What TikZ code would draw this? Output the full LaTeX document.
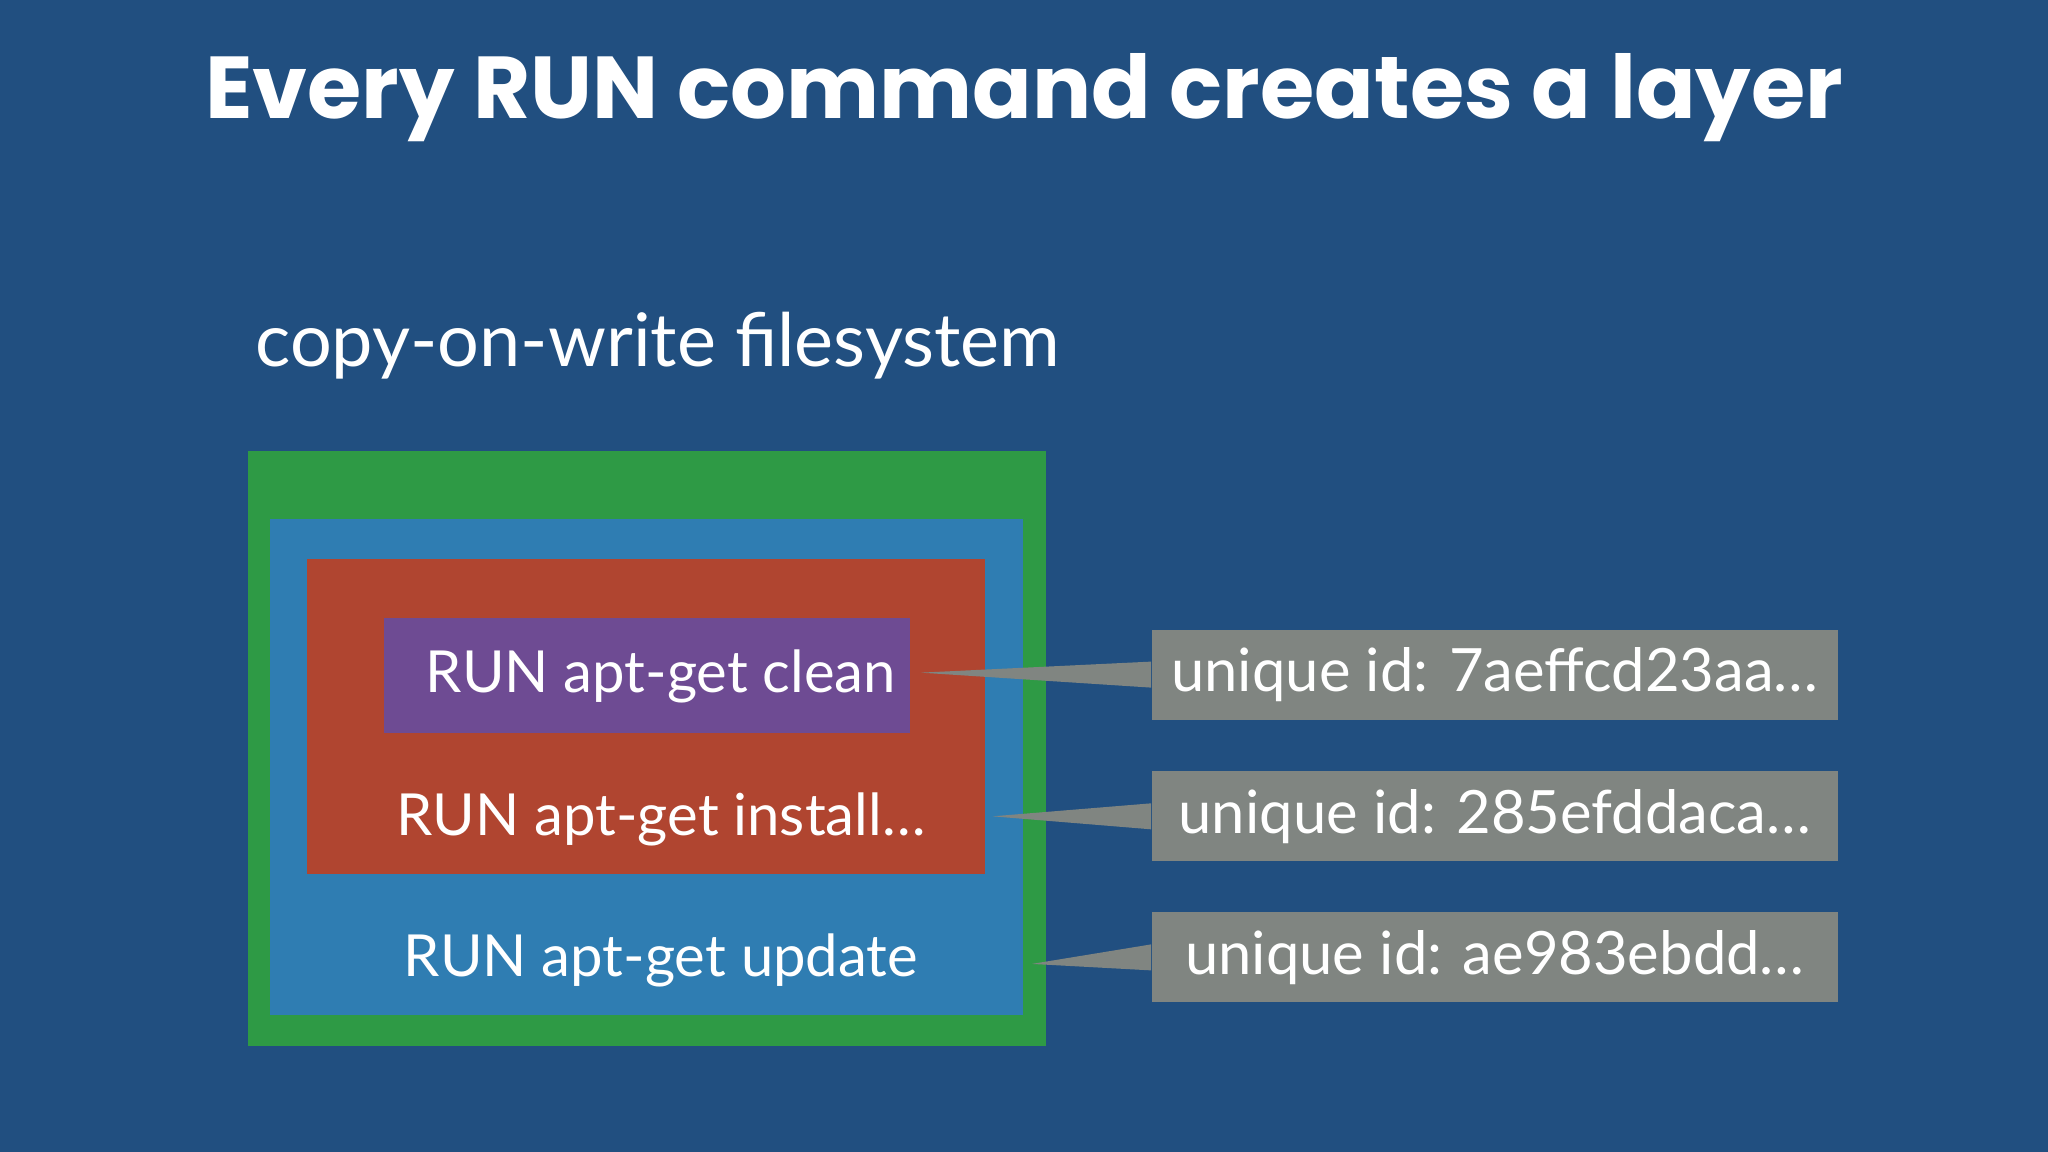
\documentclass[tikz,border=0pt]{standalone}
\usepackage{fontspec}
\setmainfont{Lato}
\newfontfamily\titlefont{Poppins}
\definecolor{bg}{HTML}{214F80}
\definecolor{lgreen}{HTML}{2E9A45}
\definecolor{lblue}{HTML}{2F7DB2}
\definecolor{lred}{HTML}{B04530}
\definecolor{lpurple}{HTML}{6E4B93}
\definecolor{lgray}{HTML}{808581}
\begin{document}
\begin{tikzpicture}[x=0.01306cm,y=-0.01306cm,
  lab/.style={text=white,font=\fontsize{16.5}{20}\selectfont,anchor=center},
  idbox/.style={fill=lgray,draw=none,minimum width=6.86cm,minimum height=0.9cm,text=white,font=\fontsize{17}{20}\selectfont,inner sep=0pt},
  wedge/.style={fill=lgray,draw=none}]
\fill[bg] (0,0) rectangle (1568,882);
\useasboundingbox (0,0) rectangle (1568,882);
\node[text=white,font=\titlefont\bfseries\fontsize{25}{30}\selectfont] (title) at (784,75) {Every RUN command creates a layer};
\node[text=white,font=\fontsize{21}{25}\selectfont,anchor=west] (cow) at (186,265) {copy-on-write filesystem};
\fill[lgreen] (190,345) rectangle (801,801);
\fill[lblue] (207,397) rectangle (783,777);
\fill[lred] (235,428) rectangle (754,669);
\fill[lpurple] (294,473) rectangle (697,561);
\node[lab] (l1) at (506,518) {RUN apt-get clean};
\node[lab] (l2) at (506,627) {RUN apt-get install\dots};
\node[lab] (l3) at (506,735) {RUN apt-get update};
\node[idbox] (i1) at (1144.5,516.5) {unique id: 7aeffcd23aa\dots};
\node[idbox] (i2) at (1144.5,625) {unique id: 285efddaca\dots};
\node[idbox] (i3) at (1144.5,733) {unique id: ae983ebdd\dots};
\coordinate (p1) at (705,515);
\coordinate (p2) at (760,625);
\coordinate (p3) at (790,738);
\fill[wedge] (p1) -- ([yshift=0.13cm]i1.west) -- ([yshift=-0.13cm]i1.west) -- cycle;
\fill[wedge] (p2) -- ([yshift=0.13cm]i2.west) -- ([yshift=-0.13cm]i2.west) -- cycle;
\fill[wedge] (p3) -- ([yshift=0.13cm]i3.west) -- ([yshift=-0.13cm]i3.west) -- cycle;
\end{tikzpicture}
\end{document}
